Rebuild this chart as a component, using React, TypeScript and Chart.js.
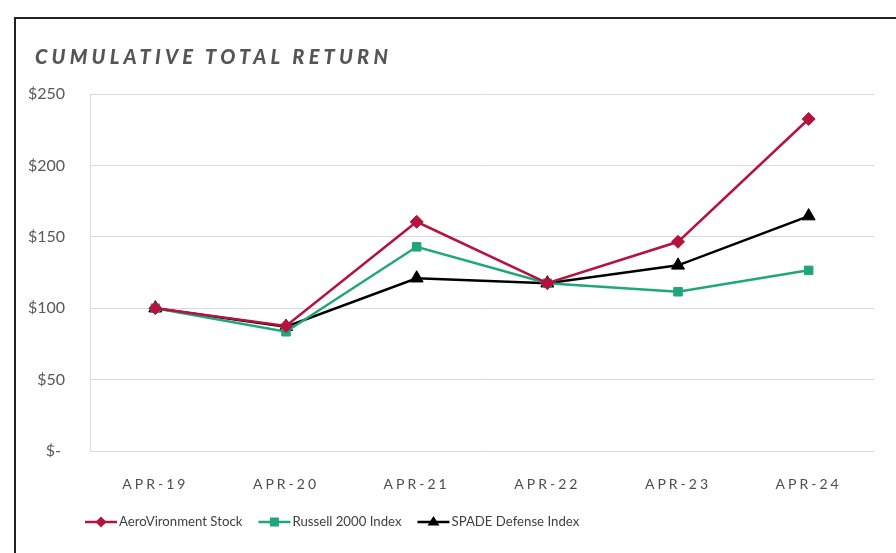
import React, { useEffect, useRef } from 'react';
import { Chart, registerables } from 'chart.js';

Chart.register(...registerables);

const categories = ['APR-19', 'APR-20', 'APR-21', 'APR-22', 'APR-23', 'APR-24'];
const aeroVironment = [100, 87.5, 160.5, 117.5, 146.5, 232.5];
const russell2000 = [100, 83.5, 143, 117.5, 111.5, 126.5];
const spadeDefense = [100, 87, 121, 117.5, 130, 164.5];
const seriesNames = ['AeroVironment Stock', 'Russell 2000 Index', 'SPADE Defense Index'];
const seriesColors = ['#B5123E', '#1FA67A', '#000000'];
const seriesMarkers = ['rectRot', 'rect', 'triangle'];
const yTickValues = [0, 50, 100, 150, 200, 250];
const titleText = 'CUMULATIVE TOTAL RETURN';

const FONT = 'Lato, "Open Sans", sans-serif';

function drawMarker(ctx: CanvasRenderingContext2D, style: string, x: number, y: number, color: string) {
  ctx.save();
  ctx.fillStyle = color;
  ctx.beginPath();
  if (style === 'rectRot') {
    const r = 5.5;
    ctx.moveTo(x, y - r);
    ctx.lineTo(x + r, y);
    ctx.lineTo(x, y + r);
    ctx.lineTo(x - r, y);
  } else if (style === 'rect') {
    const r = 4.5;
    ctx.rect(x - r, y - r, 2 * r, 2 * r);
  } else {
    const r = 6;
    ctx.moveTo(x, y - r);
    ctx.lineTo(x + r, y + r * 0.6);
    ctx.lineTo(x - r, y + r * 0.6);
  }
  ctx.closePath();
  ctx.fill();
  ctx.restore();
}

const lineLegend = {
  id: 'lineLegend',
  afterDraw(chart: any) {
    const ctx: CanvasRenderingContext2D = chart.ctx;
    ctx.save();
    ctx.font = `13.2px ${FONT}`;
    ctx.textBaseline = 'middle';
    ctx.textAlign = 'left';
    let x = 85;
    const y = 522;
    chart.data.datasets.forEach((ds: any) => {
      ctx.strokeStyle = ds.borderColor;
      ctx.lineWidth = 2.5;
      ctx.beginPath();
      ctx.moveTo(x, y);
      ctx.lineTo(x + 32, y);
      ctx.stroke();
      drawMarker(ctx, ds.pointStyle, x + 16, y, ds.borderColor);
      x += 34;
      ctx.fillStyle = '#404040';
      ctx.fillText(ds.label, x, y);
      x += ctx.measureText(ds.label).width + 16;
    });
    ctx.restore();
  },
};

const xLetterSpacing = {
  id: 'xLetterSpacing',
  afterLayout(chart: any) {
    const xs: any = chart.scales.x;
    if (xs && !xs.__patched) {
      const orig = xs.drawLabels;
      xs.drawLabels = function (area: any) {
        const c = this.ctx;
        c.save();
        c.letterSpacing = '3px';
        orig.call(this, area);
        c.restore();
      };
      xs.__patched = true;
    }
  },
};

export default function App() {
  const ref = useRef<HTMLCanvasElement>(null);
  useEffect(() => {
    if (!ref.current) return;
    const values = [aeroVironment, russell2000, spadeDefense];
    const chart = new Chart(ref.current, {
      type: 'line',
      data: {
        labels: categories,
        datasets: values.map((v, i) => ({
          label: seriesNames[i],
          data: v,
          borderColor: seriesColors[i],
          backgroundColor: seriesColors[i],
          pointBackgroundColor: seriesColors[i],
          pointBorderColor: seriesColors[i],
          borderWidth: 2.5,
          pointStyle: seriesMarkers[i],
          pointRadius: i === 0 ? 6.5 : i === 1 ? 6 : 7.5,
          pointBorderWidth: 1,
          tension: 0,
        })),
      },
      options: {
        animation: false,
        responsive: false,
        devicePixelRatio: 1,
        layout: { padding: { left: 0, top: 94, right: 22, bottom: 0 } },
        plugins: {
          legend: { display: false },
          tooltip: { enabled: false },
          title: { display: false },
        },
        scales: {
          x: {
            offset: true,
            grid: { display: false },
            border: { display: false },
            ticks: {
              color: '#4D4D4D',
              font: { family: FONT, size: 14 },
              padding: 17,
              maxRotation: 0,
            },
            afterFit: (s: any) => {
              s.height = 102;
            },
          },
          y: {
            min: 0,
            max: 250,
            afterBuildTicks: (s: any) => {
              s.ticks = yTickValues.map((v) => ({ value: v }));
            },
            grid: { color: '#D9D9D9', lineWidth: 1, drawTicks: false },
            border: { display: true, color: '#D9D9D9', width: 1 },
            ticks: {
              color: '#595959',
              font: { family: FONT, size: 16 },
              padding: 25,
              callback: (v: any) => (Number(v) === 0 ? '$- ' : '$' + v),
            },
            afterFit: (s: any) => {
              s.width = 90;
            },
          },
        },
      },
      plugins: [lineLegend, xLetterSpacing],
    });
    return () => chart.destroy();
  }, []);

  return (
    <div style={{ position: 'fixed', left: 0, top: 0, width: 896, height: 553, background: '#fff', overflow: 'hidden' }}>
      <canvas ref={ref} width={896} height={553} style={{ position: 'absolute', left: 0, top: 0 }} />
      <div
        style={{
          position: 'absolute',
          left: 14,
          top: 17,
          right: -10,
          bottom: -10,
          borderTop: '2px solid #222',
          borderLeft: '2px solid #222',
          pointerEvents: 'none',
        }}
      />
      <div
        style={{
          position: 'absolute',
          left: 35,
          top: 44,
          fontFamily: FONT,
          fontWeight: 900,
          fontStyle: 'italic',
          fontSize: 20,
          lineHeight: '24px',
          letterSpacing: 4.2,
          color: '#555555',
          whiteSpace: 'nowrap',
        }}
      >
        {titleText}
      </div>
    </div>
  );
}
